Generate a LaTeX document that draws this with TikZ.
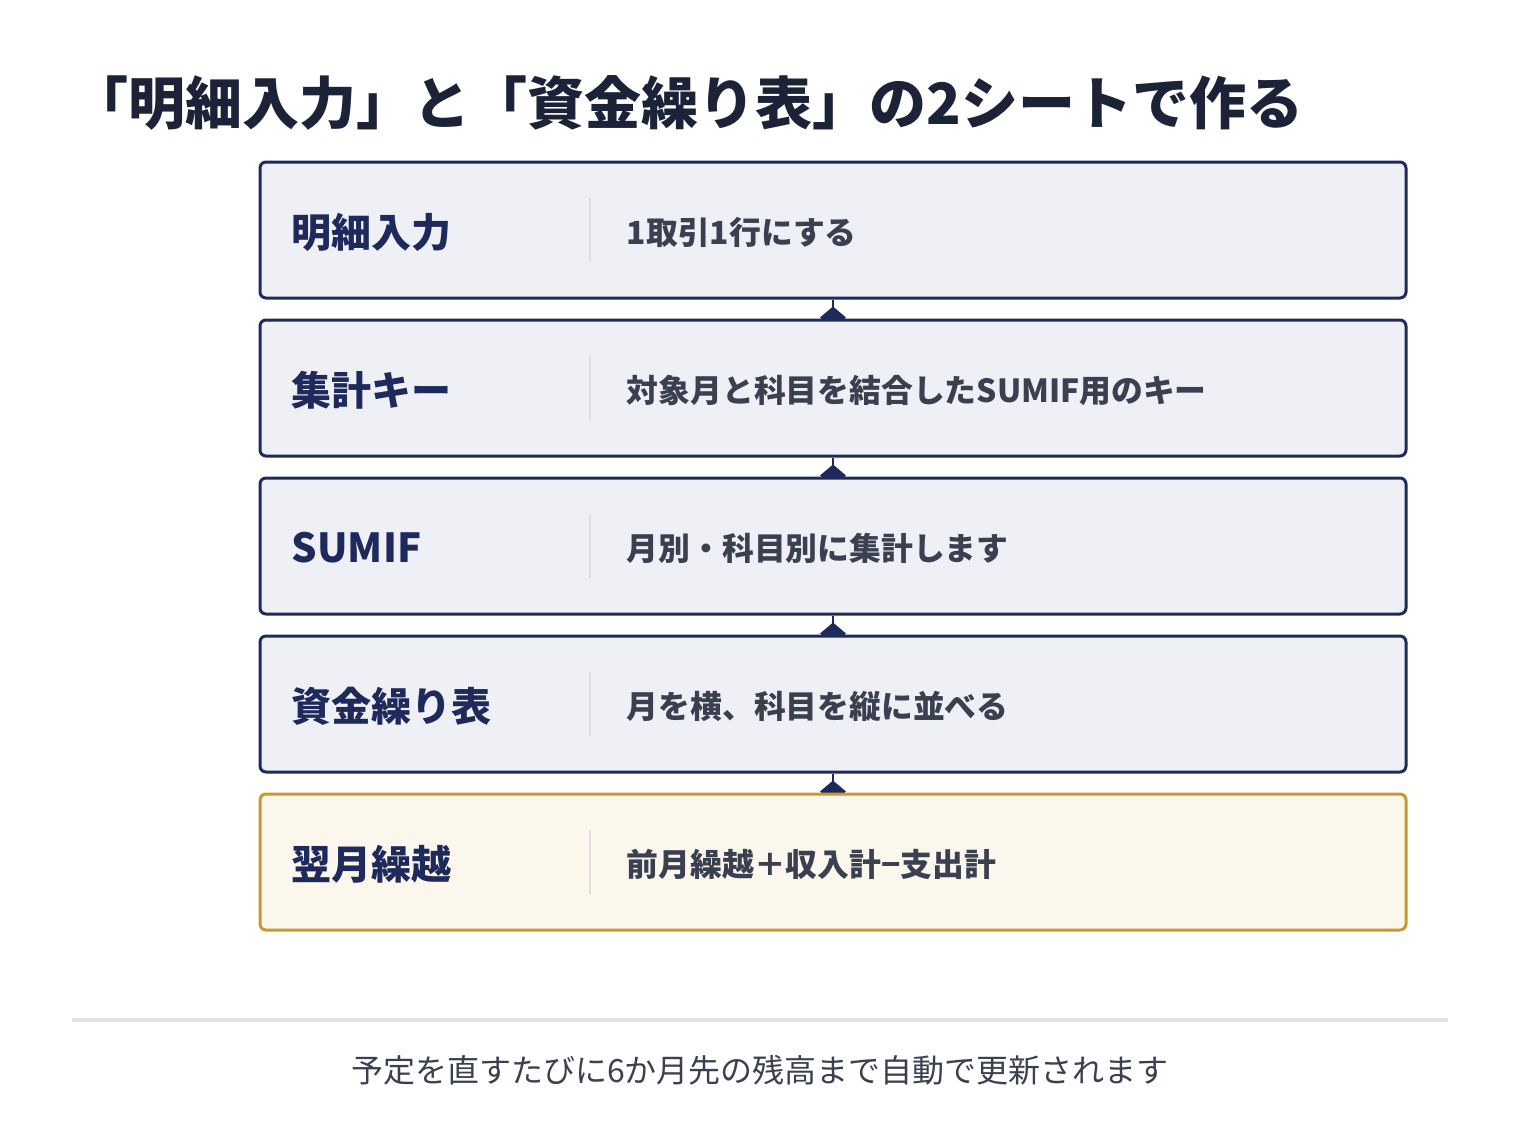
\documentclass[tikz,border=0pt]{standalone}
\usepackage{fontspec}
\setmainfont{Noto Sans CJK JP}
\usetikzlibrary{positioning, backgrounds, arrows.meta, calc}
\definecolor{navy}{HTML}{1F2A5C}
\definecolor{titleink}{HTML}{1C2238}
\definecolor{boxfill}{HTML}{EFF0F6}
\definecolor{gold}{HTML}{C8992E}
\definecolor{goldfill}{HTML}{FBF7EC}
\definecolor{descink}{HTML}{3A4050}
\definecolor{divgray}{HTML}{DCDEE3}
\definecolor{rulegray}{HTML}{E2E3E6}
\tikzset{
    stepbox/.style = {draw=navy, fill=boxfill, line width=1.5pt, rounded corners=3pt,
      minimum width=573pt, minimum height=68pt, inner sep=0pt, node distance=9.5pt},
    goalbox/.style = {stepbox, draw=gold, fill=goldfill},
    keytext/.style = {anchor=west, inner sep=0pt, text=navy, font=\bfseries\fontsize{20}{23}\selectfont},
    desctext/.style = {anchor=west, inner sep=0pt, text=descink, font=\bfseries\fontsize{15.9}{19}\selectfont},
    divider/.style = {draw=divgray, line width=1pt},
    link/.style = {navy, line width=1pt, -{Diamond[length=11pt, width=13pt]}, shorten >=-5pt}
}
\begin{document}
\begin{tikzpicture}[x=0.5pt, y=-0.5pt]
    \useasboundingbox (0,0) rectangle (1520,1146);

    \node [anchor=west, inner sep=0pt, text=titleink, font=\bfseries\fontsize{28.5}{33}\selectfont, name=title]
      at (71,103) {「明細入力」と「資金繰り表」の2シートで作る};

    \node [stepbox, name=detail] at (833,230) {};
    \node [stepbox, name=key, below = of detail] {};
    \node [stepbox, name=sumif, below = of key] {};
    \node [stepbox, name=cash, below = of sumif] {};
    \node [goalbox, name=carry, below = of cash] {};

    % left labels, divider, description
    \foreach \stp/\key/\desc in {detail/明細入力/1取引1行にする,
        key/集計キー/対象月と科目を結合したSUMIF用のキー,
        sumif/SUMIF/月別・科目別に集計します,
        cash/資金繰り表/月を横、科目を縦に並べる,
        carry/翌月繰越/前月繰越＋収入計−支出計} {
      \node [keytext, name=\stp-key] at ($(\stp.west)+(33,2)$) {\key};
      \draw [divider] ($(\stp.west)+(331,-32)$) -- ($(\stp.west)+(331,32)$);
      \node [desctext, name=\stp-desc] at ($(\stp.west)+(368,2)$) {\desc};
    }

    \begin{scope}[on background layer]
      \draw [link] (detail.south) -- (key.north);
      \draw [link] (key.south) -- (sumif.north);
      \draw [link] (sumif.south) -- (cash.north);
      \draw [link] (cash.south) -- (carry.north);
    \end{scope}

    \coordinate (ruleL) at (72,1020);
    \coordinate (ruleR) at (1448,1020);
    \draw [rulegray, line width=2pt] (ruleL) -- (ruleR);
    \node [text=descink, font=\fontsize{16}{19}\selectfont, name=note] at (760,1070)
      {予定を直すたびに6か月先の残高まで自動で更新されます};
\end{tikzpicture}
\end{document}
